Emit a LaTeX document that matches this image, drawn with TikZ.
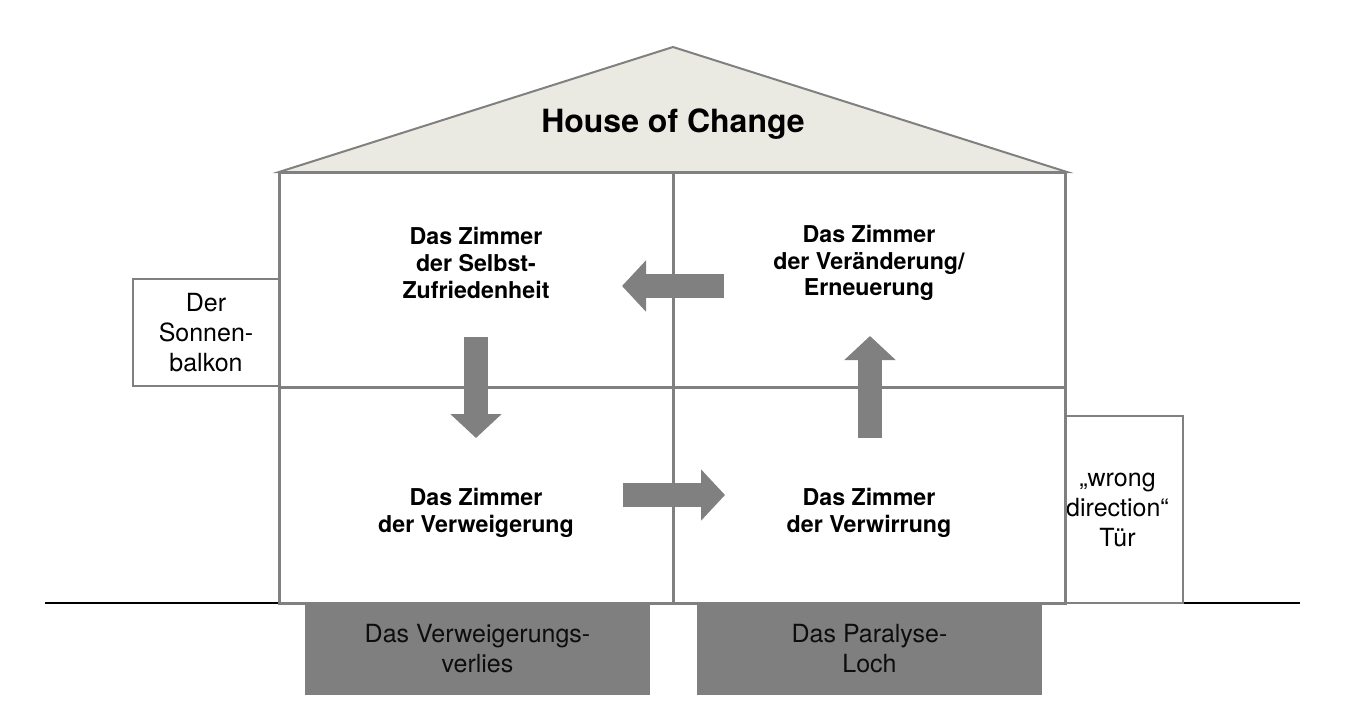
\documentclass[tikz,border=0pt]{standalone}
\usepackage{fontspec}
\setmainfont{TeX Gyre Heros}
\usepackage{tikz}
\usetikzlibrary{arrows.meta,positioning}
\definecolor{wallgray}{RGB}{128,128,128}
\definecolor{roofbeige}{RGB}{235,234,226}
\definecolor{cellargray}{RGB}{127,127,127}

\begin{document}
\begin{tikzpicture}[% one unit = one pixel of the reference
			x=0.5pt,y=-0.5pt,
			every node/.style={
				align=center,		% so that "\\" breaks the line
				inner sep=0pt
			},
			wallline/.style={draw=wallgray,line width=1.5pt},
			roomtext/.style={font=\bfseries\fontsize{11.6}{13.4}\selectfont},
			sidebox/.style={rectangle,draw=wallgray,line width=1.3pt,fill=white,
				font=\fontsize{12.5}{15}\selectfont},
			cellarbox/.style={rectangle,fill=cellargray,text=black!95,
				minimum width=172.5pt,minimum height=46pt,
				font=\fontsize{12.5}{15}\selectfont},
			bigarrow/.style={draw=wallgray,line width=12pt,
				-{Triangle[length=12pt,width=25pt]}}
		]
		\useasboundingbox (0,0) rectangle (1372,718);
		% ground
		\coordinate (G1) at (45,603);
		\coordinate (G2) at (1300,603);
		\draw[black,line width=1.2pt] (G1) -- (G2);
		% side boxes
		\node[sidebox,minimum width=73pt,minimum height=53.5pt](balkon) at (206,332.5){Der\\Sonnen-\\balkon};
		\node[sidebox,minimum width=65.5pt,minimum height=93.5pt](door) at (1117.5,509.5){„wrong\\direction“\\Tür};
		% roof and walls
		\draw[draw=wallgray,line width=1pt,fill=roofbeige] (279,172) -- (673,47) -- (1067,172) -- cycle;
		\draw[wallline,fill=white] (279,172) rectangle (1065,603);
		\draw[wallline] (673,172) -- (673,603);
		\draw[wallline] (279,387) -- (1065,387);
		\node[font=\bfseries\fontsize{16}{19}\selectfont](title) at (673,124){House of Change};
		% rooms
		\node[roomtext](selbst) at (476,263){Das Zimmer\\der Selbst-\\Zufriedenheit};
		\node[roomtext](erneu) at (869,263){Das Zimmer\\der Veränderung/\\Erneuerung};
		\node[roomtext](verweig) at (476,513){Das Zimmer\\der Verweigerung};
		\node[roomtext](verwirr) at (869,513){Das Zimmer\\der Verwirrung};
		% cellar
		\node[cellarbox](verlies) at (477.5,649){Das Verweigerungs-\\verlies};
		\node[cellarbox](loch) at (869.5,649){Das Paralyse-\\Loch};
		% arrows between the rooms
		\coordinate (A1) at (724,286);
		\coordinate (A2) at (622,286);
		\coordinate (B1) at (476,337);
		\coordinate (B2) at (476,438);
		\coordinate (C1) at (623,495);
		\coordinate (C2) at (725,495);
		\coordinate (D1) at (870,438);
		\coordinate (D2) at (870,336);
		\draw[bigarrow] (A1) -- (A2);
		\draw[bigarrow] (B1) -- (B2);
		\draw[bigarrow] (C1) -- (C2);
		\draw[bigarrow] (D1) -- (D2);
	\end{tikzpicture}
\end{document}
